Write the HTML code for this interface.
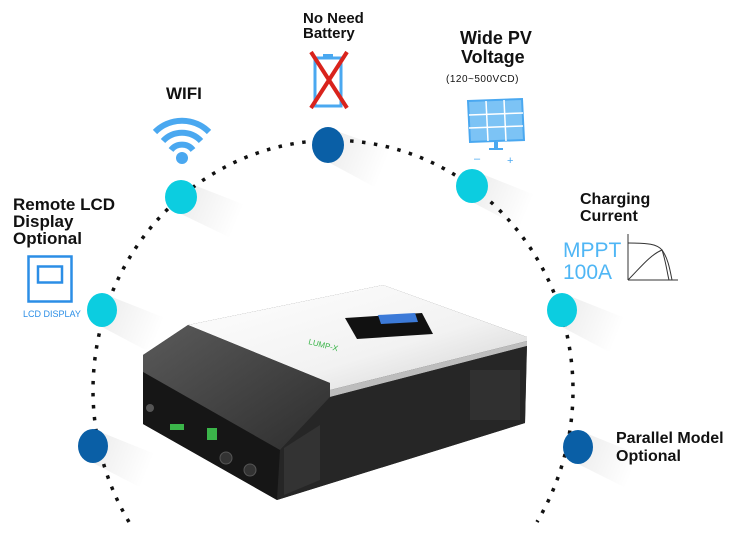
<!DOCTYPE html>
<html><head><meta charset="utf-8"><style>
html,body{margin:0;padding:0;background:#fff}
body{width:750px;height:536px;position:relative;overflow:hidden;font-family:"Liberation Sans Narrow","Liberation Sans",sans-serif}
.t{position:absolute;font-weight:bold;color:#111;line-height:1;white-space:nowrap}
</style></head><body>
<svg width="750" height="536" style="position:absolute;left:0;top:0">
<defs>
<linearGradient id="sh" x1="0" y1="0" x2="1" y2="0.4"><stop offset="0" stop-color="#000" stop-opacity=".08"/><stop offset="1" stop-color="#000" stop-opacity="0"/></linearGradient>
<linearGradient id="hood" x1="0" y1="0" x2="1" y2="1"><stop offset="0" stop-color="#5a5a5a"/><stop offset="1" stop-color="#2e2e2e"/></linearGradient>
<linearGradient id="top" x1="0" y1="0" x2="1" y2="1"><stop offset="0" stop-color="#ffffff"/><stop offset=".6" stop-color="#f2f2f2"/><stop offset="1" stop-color="#cfcfcf"/></linearGradient>
</defs>
<g fill="url(#sh)">
<polygon points="328,128 390,150 380,190 328,162"/>
<polygon points="181,180 245,205 235,240 181,214"/>
<polygon points="472,170 535,195 525,230 472,202"/>
<polygon points="102,293 165,318 155,355 102,327"/>
<polygon points="562,293 625,318 615,355 562,327"/>
<polygon points="93,429 155,454 145,490 93,463"/>
<polygon points="578,430 640,455 630,490 578,464"/>
</g>
<path d="M129,522 A240 250 0 1 1 537,522" fill="none" stroke="#111" stroke-width="3.5" stroke-dasharray="3.5 8.5"/>
<ellipse cx="328" cy="145" rx="16" ry="18" fill="#0a5fa6"/>
<ellipse cx="181" cy="197" rx="16" ry="17" fill="#0ccde0"/>
<ellipse cx="472" cy="186" rx="16" ry="17" fill="#0ccde0"/>
<ellipse cx="102" cy="310" rx="15" ry="17" fill="#0ccde0"/>
<ellipse cx="562" cy="310" rx="15" ry="17" fill="#0ccde0"/>
<ellipse cx="93" cy="446" rx="15" ry="17" fill="#0a5fa6"/>
<ellipse cx="578" cy="447" rx="15" ry="17" fill="#0a5fa6"/>
<g fill="none" stroke="#4aa8f0" stroke-width="6">
<path d="M155,132 A38 38 0 0 1 209,132"/>
<path d="M163,141 A26 26 0 0 1 201,141"/>
<path d="M171,150 A14 14 0 0 1 193,150"/>
</g>
<ellipse cx="182" cy="158" rx="6" ry="6" fill="#4aa8f0"/>
<rect x="315" y="58" width="26" height="48" fill="none" stroke="#4aa8f0" stroke-width="3"/>
<rect x="323" y="54" width="10" height="4" fill="#4aa8f0"/>
<g stroke="#d9231c" stroke-width="4"><line x1="311" y1="52" x2="347" y2="108"/><line x1="347" y1="52" x2="311" y2="108"/></g>
<polygon points="468,101 522,99 524,140 470,142" fill="#7cc3f5" stroke="#4aa8f0" stroke-width="2"/>
<g stroke="#fff" stroke-width="1.5"><line x1="486" y1="101" x2="488" y2="141"/><line x1="504" y1="100" x2="506" y2="141"/><line x1="469" y1="115" x2="523" y2="113"/><line x1="469" y1="128" x2="523" y2="126"/></g>
<rect x="494" y="142" width="4" height="6" fill="#4aa8f0"/><rect x="489" y="148" width="14" height="2" fill="#4aa8f0"/>
<text x="474" y="162" font-family="Liberation Sans" font-size="11" fill="#4aa8f0">–</text>
<text x="507" y="164" font-family="Liberation Sans" font-size="11" fill="#4aa8f0">+</text>
<rect x="28.5" y="256.5" width="43" height="45" fill="none" stroke="#2b8ee6" stroke-width="2.5"/>
<rect x="38" y="266.5" width="24" height="16" fill="none" stroke="#2b8ee6" stroke-width="2.5"/>
<g fill="none" stroke="#333" stroke-width="1">
<line x1="628" y1="234" x2="628" y2="280"/><line x1="628" y1="280" x2="678" y2="280"/>
<path d="M628,243 C648,243 657,244 662,250 C668,258 670,270 672,280"/>
<path d="M628,280 C640,268 650,255 662,250 C666,262 667,272 669,280"/>
</g>
<polygon points="143,355 188,325 383,285 527,337 525,423 277,500 143,424" fill="#2d2d2d"/>
<polygon points="188,325 383,285 527,337 527,341 330,390 330,383" fill="url(#top)"/>
<polygon points="330,390 527,341 527,346 330,397" fill="#bdbdbd"/>
<polygon points="143,355 188,325 330,383 330,397 280,450 143,372" fill="url(#hood)"/>
<polygon points="330,397 527,346 525,423 277,500 280,450" fill="#262626"/>
<polygon points="143,372 280,450 277,500 143,424" fill="#161616"/>
<rect x="470" y="370" width="50" height="50" fill="#3a3a3a" opacity=".5"/>
<polygon points="284,448 320,425 320,480 284,495" fill="#333"/>
<polygon points="345,318 422,313 433,334 357,339" fill="#111"/>
<polygon points="378,315 415,313 418,322 381,324" fill="#3c7ad8"/>
<text x="308" y="344" font-family="Liberation Sans" font-size="8" fill="#3bb54a" transform="rotate(14 308 344)">LUMP-X</text>
<rect x="170" y="424" width="14" height="6" fill="#3bb54a"/>
<rect x="207" y="428" width="10" height="12" fill="#3bb54a"/>
<circle cx="150" cy="408" r="4" fill="#555"/><circle cx="226" cy="458" r="6" fill="#333" stroke="#555"/><circle cx="250" cy="470" r="6" fill="#333" stroke="#555"/>
</svg>
<div class="t" style="left:303px;top:11px;font-size:15px">No Need</div>
<div class="t" style="left:303px;top:26px;font-size:15px">Battery</div>
<div class="t" style="left:460px;top:29px;font-size:18px">Wide PV</div>
<div class="t" style="left:461px;top:48px;font-size:18px">Voltage</div>
<div class="t" style="left:446px;top:75px;font-size:10px;font-weight:normal;font-family:'Liberation Sans',sans-serif;letter-spacing:.5px">(120~500VCD)</div>
<div class="t" style="left:166px;top:85px;font-size:17px">WIFI</div>
<div class="t" style="left:13px;top:196px;font-size:17px;font-family:'Liberation Sans',sans-serif;line-height:17px">Remote LCD<br>Display<br>Optional</div>
<div class="t" style="left:23px;top:310px;font-size:9px;font-weight:normal;color:#2b8ee6">LCD DISPLAY</div>
<div class="t" style="left:580px;top:191px;font-size:16px;font-family:'Liberation Sans',sans-serif;line-height:17px">Charging<br>Current</div>
<div class="t" style="left:563px;top:240px;font-size:21px;font-weight:normal;color:#4fb6f5;font-family:'Liberation Sans',sans-serif;line-height:22px">MPPT<br>100A</div>
<div class="t" style="left:616px;top:430px;font-size:16px;font-family:'Liberation Sans',sans-serif;line-height:18px">Parallel Model<br>Optional</div>
</body></html>
